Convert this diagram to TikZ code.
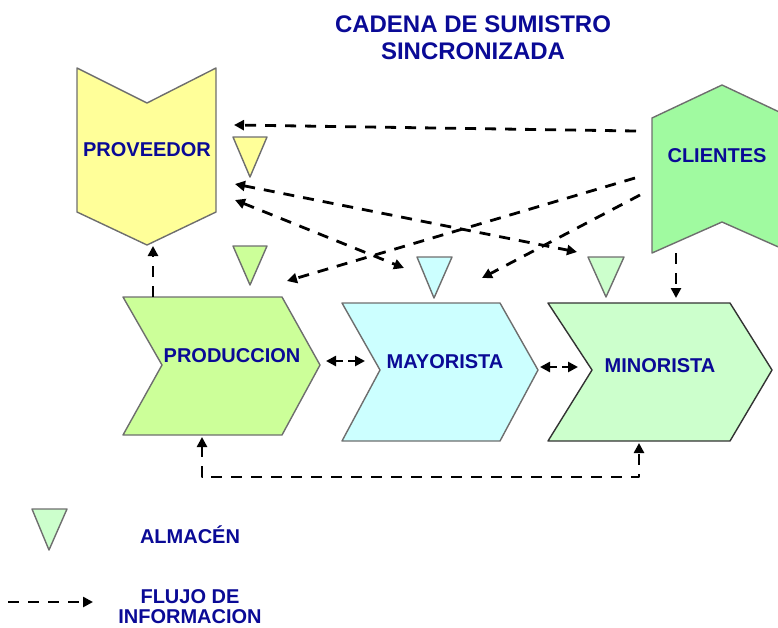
\documentclass[tikz,border=0pt]{standalone}
\usepackage{fontspec}
\setmainfont{Liberation Sans}
\usepackage{tikz}
\usetikzlibrary{arrows.meta}
\definecolor{azul}{RGB}{10,10,150}
\definecolor{borde}{RGB}{110,110,110}
\definecolor{amarillo}{RGB}{255,255,153}
\definecolor{verdecli}{RGB}{160,250,160}
\definecolor{verdeprod}{RGB}{204,255,153}
\definecolor{celeste}{RGB}{204,255,255}
\definecolor{verdemin}{RGB}{204,255,204}
\begin{document}
\begin{tikzpicture}[line cap=round,line join=round,>={Triangle[length=10pt,width=10pt]},x=1pt,y=-1pt,
  forma/.style={draw=borde,line width=1.4pt},
  txt/.style={text=azul,font=\bfseries\fontsize{20}{18}\selectfont,inner sep=0pt},
  flujo/.style={line width=2.8pt,dash pattern=on 11pt off 9pt,line cap=butt}]
\clip (0,0) rectangle (778,627);
% titulo
\node[txt,font=\bfseries\fontsize{24}{27}\selectfont,align=center] (titulo) at (473,38) {CADENA DE SUMISTRO\\SINCRONIZADA};
% formas
\draw [forma,fill=amarillo] (77,68)-- (147,103)-- (216,68)-- (216,212)-- (147,245)-- (77,212)-- cycle;
\draw [forma,fill=verdecli] (652,118)-- (722,85)-- (792,118)-- (792,253)-- (722,222)-- (652,253)-- cycle;
\draw [forma,fill=verdeprod] (123,297)-- (282,297)-- (320,365)-- (282,435)-- (123,435)-- (162,365)-- cycle;
\draw [forma,fill=celeste] (342,303)-- (500,303)-- (538,370)-- (500,441)-- (342,441)-- (380,370)-- cycle;
\draw [forma,draw=black!80,fill=verdemin] (548,303)-- (730,303)-- (772,370)-- (730,441)-- (548,441)-- (592,370)-- cycle;
\node[txt] (prov) at (147,150) {PROVEEDOR};
\node[txt] (cli) at (717,156) {CLIENTES};
\node[txt] (prod) at (232,356) {PRODUCCION};
\node[txt] (may) at (445,362) {MAYORISTA};
\node[txt] (min) at (660,366) {MINORISTA};
% almacenes
\draw [forma,fill=amarillo] (233,137)-- (267,137)-- (250,177)-- cycle;
\draw [forma,fill=verdeprod] (233,246)-- (267,246)-- (250,285)-- cycle;
\draw [forma,fill=celeste] (417,257)-- (452,257)-- (434,298)-- cycle;
\draw [forma,fill=verdemin] (588,257)-- (624,257)-- (606,297)-- cycle;
% puntos de los flujos
\coordinate (c1) at (636,131);
\coordinate (c2) at (635,178);
\coordinate (c3) at (640,195);
\coordinate (c4) at (676,253);
\coordinate (p1) at (234,125);
\coordinate (p2) at (235,184);
\coordinate (p3) at (235,200);
\coordinate (p4) at (153,246);
\coordinate (d1) at (153,297);
\coordinate (d2) at (287,281);
\coordinate (m1) at (404,268);
\coordinate (m2) at (482,278);
\coordinate (n1) at (577,252);
\coordinate (n2) at (676,298);
\coordinate (e1) at (326,361);
\coordinate (e2) at (365,361);
\coordinate (e3) at (540,367);
\coordinate (e4) at (578,367);
\coordinate (b1) at (202,437);
\coordinate (b2) at (202,477);
\coordinate (b3) at (639,477);
\coordinate (b4) at (639,443);
% flujos
\draw [flujo,->] (c1)-- (p1);
\draw [flujo,->] (c2)-- (d2);
\draw [flujo,->] (c3)-- (m2);
\draw [flujo,->] (c4)-- (n2);
\draw [flujo,<->] (p2)-- (n1);
\draw [flujo,<->] (p3)-- (m1);
\draw [flujo,->] (d1)-- (p4);
\draw [flujo,<->,dash pattern=on 8pt off 5pt] (e1)-- (e2);
\draw [flujo,<->,dash pattern=on 8pt off 5pt] (e3)-- (e4);
\draw [flujo,<->] (b1)-- (b2)-- (b3)-- (b4);
% leyenda
\draw [forma,fill=verdemin] (32,509)-- (67,509)-- (49,550)-- cycle;
\node[txt] (alm) at (190,535) {ALMACÉN};
\coordinate (l1) at (8,602);
\coordinate (l2) at (93,602);
\draw [flujo,->] (l1)-- (l2);
\node[txt] (flu1) at (190,597) {FLUJO DE};
\node[txt] (flu2) at (190,617) {INFORMACION};
\end{tikzpicture}
\end{document}
